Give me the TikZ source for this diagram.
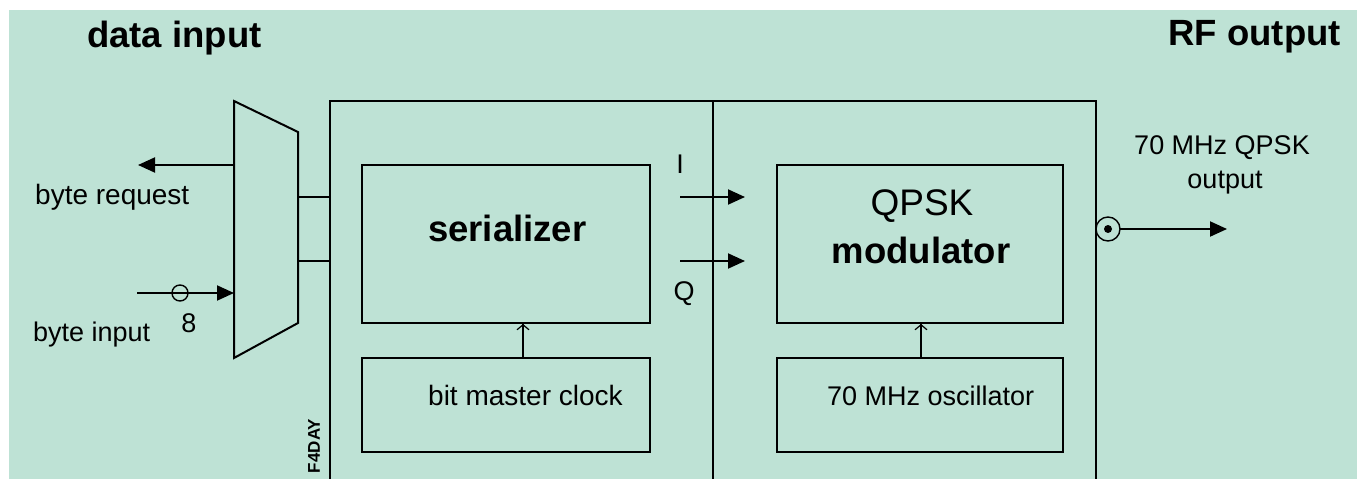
\documentclass[tikz,border=0pt]{standalone}
\usepackage{fontspec}
\setmainfont{Liberation Sans}
\usetikzlibrary{arrows.meta}
\definecolor{bgmint}{RGB}{190,226,213}
\begin{document}
\begin{tikzpicture}[x=1pt,y=-1pt,
  ln/.style={line width=2pt,line cap=rect},
  blk/.style={draw,line width=2pt,rectangle,inner sep=0pt},
  bigtxt/.style={font=\fontsize{36.5}{40}\selectfont\bfseries,inner sep=0pt},
  midtxt/.style={font=\fontsize{37}{40}\selectfont,inner sep=0pt},
  smtxt/.style={font=\fontsize{27}{30}\selectfont,inner sep=0pt},
  wtxt/.style={font=\fontsize{28}{30}\selectfont,inner sep=0pt},
  fat/.style={-{Triangle[length=17pt,width=15pt]}},
  clk/.style={-{Straight Barb[length=5pt,width=12pt,line width=1.2pt]}}]
\useasboundingbox (0,0) rectangle (1357,479);
\fill[bgmint] (9,10) rectangle (1357,479);

% titles
\node[bigtxt,anchor=base west] (tin) at (87,47) {data input};
\node[bigtxt,anchor=base east] (tout) at (1341,45) {RF output};

% outer frame
\draw[ln] (330,479) -- (330,101) -- (1096,101) -- (1096,479);
\draw[ln] (713,101) -- (713,479);

% multiplexer
\coordinate (m1) at (234,101);
\coordinate (m2) at (298,132);
\coordinate (m3) at (298,323);
\coordinate (m4) at (234,358);
\draw[ln,line join=miter] (m1) -- (m2) -- (m3) -- (m4) -- cycle;
\coordinate (mreq) at (234,165);
\coordinate (min) at (234,293);
\coordinate (mo1) at (298,197);
\coordinate (mo2) at (298,261);
\coordinate (fo1) at (330,197);
\coordinate (fo2) at (330,261);
\draw[ln] (mo1) -- (fo1);
\draw[ln] (mo2) -- (fo2);

% byte request / input
\coordinate (reqend) at (138,165);
\coordinate (inbeg) at (138,293);
\draw[ln,fat] (mreq) -- (reqend);
\draw[ln,fat] (inbeg) -- (min);
\draw[line width=1.4pt] (180,293) circle (8);
\node[wtxt,anchor=base west] (lreq) at (35,204) {byte request};
\node[smtxt,anchor=base west] (lin) at (33,341) {byte input};
\node[smtxt,anchor=base] (l8) at (189,332) {8};

% left blocks
\node[blk,minimum width=288pt,minimum height=158pt] (ser) at (506,244) {};
\node[blk,minimum width=288pt,minimum height=94pt] (clock) at (506,405) {};
\node[bigtxt,anchor=base west] (tser) at (428,241) {serializer};
\node[wtxt,anchor=base west] (tclock) at (428,405) {bit master clock};
\draw[ln,clk] ([xshift=17pt]clock.north) -- ([xshift=17pt]ser.south);

% I/Q
\coordinate (ib) at (681,197);
\coordinate (qb) at (681,261);
\coordinate (ie) at (745,197);
\coordinate (qe) at (745,261);
\draw[ln,fat] (ib) -- (ie);
\draw[ln,fat] (qb) -- (qe);
\node[smtxt,anchor=base] (lI) at (680,173) {I};
\node[smtxt,anchor=base] (lQ) at (684,300) {Q};

% right blocks
\node[blk,minimum width=286pt,minimum height=158pt] (mod) at (920,244) {};
\node[blk,minimum width=286pt,minimum height=94pt] (osc) at (920,405) {};
\node[midtxt,anchor=base] (tq) at (922,215) {QPSK};
\node[bigtxt,anchor=base] (tm) at (921,263) {modulator};
\node[smtxt,anchor=base west] (tosc) at (827,405) {70 MHz oscillator};
\draw[ln,clk] ([xshift=1pt]osc.north) -- ([xshift=1pt]mod.south);

% RF output connector
\node[draw,circle,line width=1.4pt,minimum size=24pt,inner sep=0pt] (coax) at (1108,229) {};
\fill (1108,229) circle (4);
\coordinate (rfend) at (1227,229);
\draw[ln,fat] (coax.east) -- (rfend);
\node[smtxt,anchor=base] (lrf1) at (1222,154) {70 MHz QPSK};
\node[smtxt,anchor=base] (lrf2) at (1225,188) {output};

% signature
\node[font=\fontsize{17}{18}\selectfont\bfseries,rotate=90,inner sep=0pt] (sig) at (314,446) {F4DAY};
\end{tikzpicture}
\end{document}
